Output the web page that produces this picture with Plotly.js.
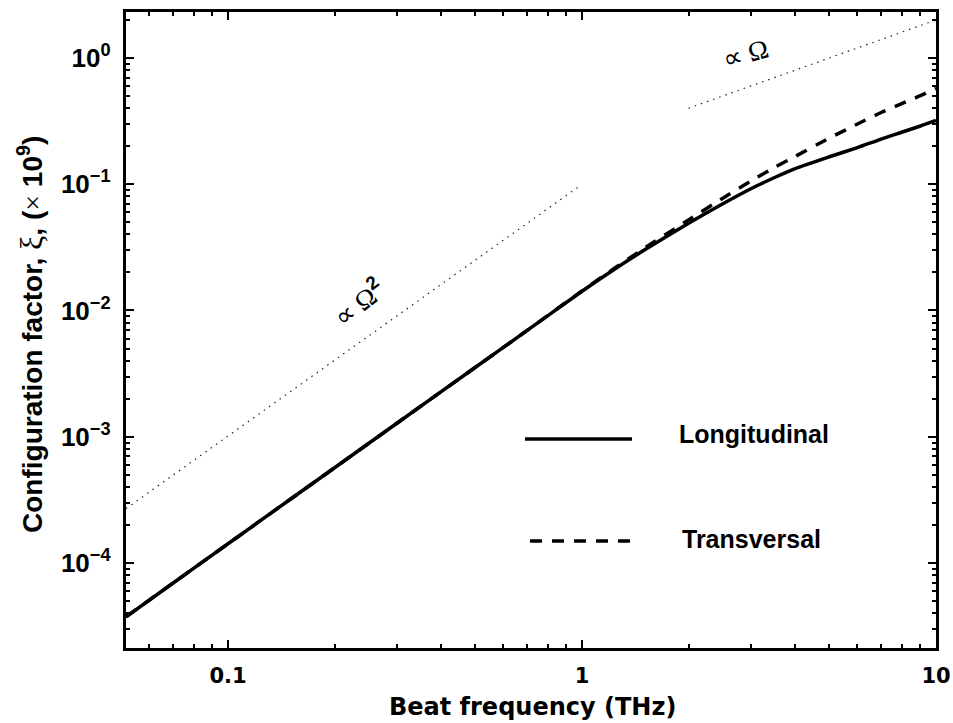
<!DOCTYPE html>
<html>
<head>
<meta charset="utf-8">
<script src="https://cdn.plot.ly/plotly-3.0.1.min.js"></script>
<style>html,body{margin:0;padding:0;background:#fff;}#chart{width:953px;height:723px;}</style>
</head>
<body>
<div id="chart"></div>
<script>
// ---- data ----
const freq = [0.0515, 0.07, 0.1, 0.15, 0.2, 0.3, 0.5, 0.7, 1, 1.25, 1.5, 2, 2.5, 3, 3.5, 4, 5, 6, 7, 8, 9, 10];
const longitudinal = [3.75e-5, 6.95e-5, 1.42e-4, 3.2e-4, 5.68e-4, 1.28e-3, 3.55e-3, 6.95e-3, 0.0142, 0.0217, 0.0301, 0.049, 0.070, 0.092, 0.113, 0.133, 0.165, 0.195, 0.228, 0.258, 0.288, 0.32];
const transversal  = [3.75e-5, 6.95e-5, 1.42e-4, 3.2e-4, 5.68e-4, 1.28e-3, 3.55e-3, 6.95e-3, 0.0143, 0.0221, 0.0311, 0.0522, 0.0775, 0.106, 0.136, 0.166, 0.232, 0.30, 0.37, 0.435, 0.50, 0.575];
const omega2Freq = [0.0515, 0.975];
const omega2Val  = [2.7e-4, 0.095];
const omegaFreq  = [2, 10];
const omegaVal   = [0.4, 2.0];
const seriesNames = ['Longitudinal', 'Transversal'];

const NB = '\u00A0';
const xMajor = [0.1, 1, 10];
const xMajorText = ['<b>0.1</b>', '<b>1</b>', '<b>10</b>'];
const xMinor = [0.06, 0.07, 0.08, 0.09, 0.2, 0.3, 0.4, 0.5, 0.6, 0.7, 0.8, 0.9, 2, 3, 4, 5, 6, 7, 8, 9];
const yMajor = [1e-4, 1e-3, 1e-2, 1e-1, 1];
const yExp = ['\u22124', '\u22123', '\u22122', '\u22121', '0'];
const yMajorText = yExp.map(e => '<b>10<sup>' + e + '</sup></b>' + NB);
const yMinor = [3e-5, 4e-5, 5e-5, 6e-5, 7e-5, 8e-5, 9e-5,
                2e-4, 3e-4, 4e-4, 5e-4, 6e-4, 7e-4, 8e-4, 9e-4,
                2e-3, 3e-3, 4e-3, 5e-3, 6e-3, 7e-3, 8e-3, 9e-3,
                2e-2, 3e-2, 4e-2, 5e-2, 6e-2, 7e-2, 8e-2, 9e-2,
                0.2, 0.3, 0.4, 0.5, 0.6, 0.7, 0.8, 0.9, 2];

const xRange = [Math.log10(0.0515), 1];
const yRange = [-4.673, 0.364];

const SANS = 'Liberation Sans, Arial, sans-serif';
const WIDE = 'DejaVu Sans, sans-serif';
const SERIF = 'Liberation Serif, Times New Roman, serif';

const traces = [
  {x: omega2Freq, y: omega2Val, mode: 'lines', line: {color: '#222', width: 1.2, dash: '1.5px,5px'}, showlegend: false, hoverinfo: 'skip'},
  {x: omegaFreq, y: omegaVal, mode: 'lines', line: {color: '#222', width: 1.2, dash: '1.5px,5px'}, showlegend: false, hoverinfo: 'skip'},
  {x: freq, y: transversal, name: seriesNames[1], mode: 'lines', line: {color: '#000', width: 3.5, dash: '12px,10px', shape: 'spline', smoothing: 0.6}, showlegend: false},
  {x: freq, y: longitudinal, name: seriesNames[0], mode: 'lines', line: {color: '#000', width: 3.5, shape: 'spline', smoothing: 0.6}, showlegend: false}
];

// paper coords helpers (plot area 126..936 x 12..648)
const px = v => (v - 126) / 810;
const py = v => (648 - v) / 636;

const layout = {
  width: 953, height: 723,
  margin: {l: 126, r: 17, t: 12, b: 75},
  paper_bgcolor: '#fff', plot_bgcolor: '#fff',
  showlegend: false,
  xaxis: {
    type: 'log', range: xRange, tickmode: 'array', tickvals: xMajor, ticktext: xMajorText,
    ticks: 'inside', ticklen: 8, tickwidth: 2, tickcolor: 'black',
    minor: {tickmode: 'array', tickvals: xMinor, ticks: 'inside', ticklen: 4, tickwidth: 2, tickcolor: 'black', showgrid: false},
    showline: true, linewidth: 3, linecolor: 'black', mirror: 'ticks',
    showgrid: false, zeroline: false,
    tickfont: {family: WIDE, size: 21, color: 'black'},
    ticklabelstandoff: 7
  },
  yaxis: {
    type: 'log', range: yRange, tickmode: 'array', tickvals: yMajor, ticktext: yMajorText,
    ticks: 'inside', ticklen: 8, tickwidth: 2, tickcolor: 'black',
    minor: {tickmode: 'array', tickvals: yMinor, ticks: 'inside', ticklen: 4, tickwidth: 2, tickcolor: 'black', showgrid: false},
    showline: true, linewidth: 3, linecolor: 'black', mirror: 'ticks',
    showgrid: false, zeroline: false,
    tickfont: {family: SANS, size: 26, color: 'black'}
  },
  shapes: [
    {type: 'line', xref: 'paper', yref: 'paper', x0: px(525), x1: px(632), y0: py(439), y1: py(439), line: {color: '#000', width: 3.5}},
    {type: 'line', xref: 'paper', yref: 'paper', x0: px(530), x1: px(630), y0: py(541), y1: py(541), line: {color: '#000', width: 3.5, dash: '12px,10px'}}
  ],
  annotations: [
    {xref: 'paper', yref: 'paper', x: px(677), y: py(434), xanchor: 'left', yanchor: 'middle', showarrow: false,
     text: '<b>' + seriesNames[0] + '</b>', font: {family: SANS, size: 25, color: '#000'}},
    {xref: 'paper', yref: 'paper', x: px(680), y: py(539), xanchor: 'left', yanchor: 'middle', showarrow: false,
     text: '<b>' + seriesNames[1] + '</b>', font: {family: SANS, size: 25, color: '#000'}},
    {xref: 'paper', yref: 'paper', x: px(746), y: py(54), xanchor: 'center', yanchor: 'middle', showarrow: false,
     text: '\u221D \u03A9', textangle: -16, font: {family: SERIF, size: 27, color: '#000'}},
    {xref: 'paper', yref: 'paper', x: px(358), y: py(302), xanchor: 'center', yanchor: 'middle', showarrow: false,
     text: '\u221D \u03A9<sup><b><span style="font-family:Liberation Sans">2</span></b></sup>', textangle: -38, font: {family: SERIF, size: 27, color: '#000'}},
    {xref: 'paper', yref: 'paper', x: px(532), y: py(707), xanchor: 'center', yanchor: 'middle', showarrow: false,
     text: '<b>Beat frequency (THz)</b>', font: {family: WIDE, size: 24, color: '#000'}},
    {xref: 'paper', yref: 'paper', x: px(31), y: py(335), xanchor: 'center', yanchor: 'middle', showarrow: false, textangle: -90,
     text: '<b>Configuration factor, </b><span style="font-family:Liberation Serif;font-size:32px">\u03BE</span><b>, (</b><span style="font-family:Liberation Serif">\u00D7</span><b> 10<sup>9</sup>)</b>',
     font: {family: SANS, size: 28, color: '#000'}}
  ]
};

Plotly.newPlot('chart', traces, layout, {displayModeBar: false});
</script>
</body>
</html>
